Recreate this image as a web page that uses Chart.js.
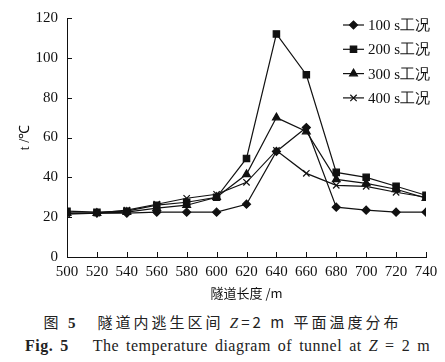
<!DOCTYPE html>
<html>
<head>
<meta charset="utf-8">
<script src="https://cdn.jsdelivr.net/npm/chart.js@4"></script>
<style>
  body { margin: 0; background: #fff; width: 445px; height: 362px; position: relative; overflow: hidden; }
  #box { position: absolute; left: 0; top: 0; width: 445px; height: 305px; }
  .cap { position: absolute; left: 0; width: 445px; text-align: center; color: #222; white-space: nowrap; }
  #cap1 { top: 311px; font: 15px "Noto Sans CJK SC"; letter-spacing: 3px; }
  #cap2 { top: 337px; left: 5px; font: 16px "Liberation Serif"; word-spacing: 2.5px; letter-spacing: 0.5px; }
  #cap2 b { margin-right: 24px; }
</style>
</head>
<body>
<div id="box"><canvas id="main"></canvas></div>
<div class="cap" id="cap1">图 <b style="font-family:'Liberation Serif'">5</b>&nbsp;&nbsp;&nbsp;隧道内逃生区间 <i style="font-family:'Liberation Serif'">Z</i>=2 m 平面温度分布</div>
<div class="cap" id="cap2"><b>Fig. 5</b>The temperature diagram of tunnel at <i>Z</i> = 2 m</div>
<script>
const distance = [500, 520, 540, 560, 580, 600, 620, 640, 660, 680, 700, 720, 740]
const t100 = [22, 22, 22, 22.5, 22.5, 22.5, 26.5, 53, 65, 25, 23.5, 22.5, 22.5]
const t200 = [23, 22.5, 23, 26, 27.5, 30, 49.5, 112, 91.5, 42.5, 40, 35.5, 31]
const t300 = [22, 22, 22.5, 24.5, 26, 30, 41.5, 70, 63, 39, 37, 34, 29.5]
const t400 = [21.5, 22, 23.5, 26.5, 29.5, 31.5, 37.5, 53.5, 42, 36, 35.5, 32.5, 30]
const seriesNames = ['100 s工况', '200 s工况', '300 s工况', '400 s工况']

const ink = '#111'
const serif = 'Liberation Serif'

const toPoints = vals => vals.map((v, i) => ({ x: distance[i], y: v }))

function series(label, vals, style, radius) {
    return {
        label: label,
        data: toPoints(vals),
        borderColor: ink,
        backgroundColor: ink,
        borderWidth: 1.2,
        pointStyle: style,
        pointRadius: radius,
        pointBorderWidth: 1.2,
        pointBackgroundColor: ink,
        pointBorderColor: ink,
        tension: 0
    }
}

// small ticks drawn inward from the axes, plus the legend inside the plot
const inwardTicks = {
    id: 'inwardTicks',
    afterDraw(chart) {
        const ctx = chart.ctx
        const xs = chart.scales.x
        const ys = chart.scales.y
        const area = chart.chartArea
        ctx.save()
        ctx.strokeStyle = ink
        ctx.lineWidth = 1
        ctx.beginPath()
        xs.ticks.forEach(t => {
            const px = Math.round(xs.getPixelForValue(t.value)) + 0.5
            ctx.moveTo(px, area.bottom)
            ctx.lineTo(px, area.bottom - 5)
        })
        ys.ticks.forEach(t => {
            const py = Math.round(ys.getPixelForValue(t.value)) + 0.5
            ctx.moveTo(area.left, py)
            ctx.lineTo(area.left + 5, py)
        })
        ctx.stroke()

        // legend
        const lx = 343, ly = 25, gap = 24.3
        ctx.font = '15px ' + serif
        ctx.textBaseline = 'middle'
        ctx.fillStyle = ink
        chart.data.datasets.forEach((ds, i) => {
            const y = ly + i * gap
            ctx.beginPath()
            ctx.lineWidth = 1.2
            ctx.moveTo(lx, y)
            ctx.lineTo(lx + 21, y)
            ctx.stroke()
            Chart.helpers.drawPoint(ctx, {
                pointStyle: ds.pointStyle,
                radius: ds.pointRadius,
                rotation: 0,
                borderWidth: 1.2
            }, lx + 10.5, y)
            ctx.fillText(ds.label, lx + 25, y + 1)
        })
        ctx.restore()
    }
}

const ctx = document.querySelector('#main').getContext('2d')

let chart = new Chart(ctx, {
    type: 'line',
    data: {
        datasets: [
            series(seriesNames[0], t100, 'rectRot', 4),
            series(seriesNames[1], t200, 'rect', 4.5),
            series(seriesNames[2], t300, 'triangle', 4.5),
            series(seriesNames[3], t400, 'crossRot', 4.5)
        ]
    },
    options: {
        responsive: true,
        maintainAspectRatio: false,
        animation: false,
        layout: { padding: { top: 17, right: 19, left: 0, bottom: 0 } },
        plugins: {
            legend: { display: false },
            tooltip: { enabled: false }
        },
        scales: {
            x: {
                type: 'linear',
                min: 500,
                max: 740,
                ticks: {
                    stepSize: 20,
                    color: ink,
                    padding: 6,
                    maxRotation: 0,
                    autoSkip: false,
                    font: { family: serif, size: 15 }
                },
                grid: { display: true, drawOnChartArea: false, drawTicks: false },
                border: { display: true, color: ink, width: 1 },
                title: {
                    display: true,
                    text: '隧道长度 /m',
                    color: ink,
                    font: { family: 'Noto Sans CJK SC', size: 13 },
                    padding: { top: 0, bottom: 4 }
                },
                afterFit(scale) { scale.height = 48 }
            },
            y: {
                min: 0,
                max: 120,
                ticks: {
                    stepSize: 20,
                    color: ink,
                    padding: 9,
                    font: { family: serif, size: 15 }
                },
                grid: { display: true, drawOnChartArea: false, drawTicks: false },
                border: { display: true, color: ink, width: 1 },
                title: {
                    display: true,
                    text: 't /℃',
                    color: ink,
                    font: { family: serif, size: 14 },
                    padding: { top: 17, bottom: 0 }
                },
                afterFit(scale) { scale.width = 67 }
            }
        }
    },
    plugins: [inwardTicks]
})
</script>
</body>
</html>
